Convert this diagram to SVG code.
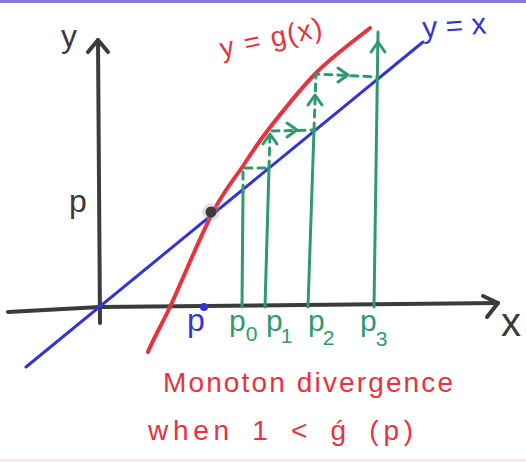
<svg xmlns="http://www.w3.org/2000/svg" xmlns:xlink="http://www.w3.org/1999/xlink" width="526" height="462" viewBox="0 0 526 462">
<style>
  .ax { fill: none; stroke: #3b3b3b; stroke-width: 4; stroke-linecap: round; stroke-linejoin: round; }
  .bl { fill: none; stroke: #3434d6; stroke-width: 3; stroke-linecap: round; }
  .rd { fill: none; stroke: #e8323f; stroke-width: 4; stroke-linecap: round; }
  .gr { fill: none; stroke: #2f9a6f; stroke-width: 3; stroke-linecap: round; stroke-linejoin: round; }
  .gd { fill: none; stroke: #2f9a6f; stroke-width: 3; stroke-linecap: round; stroke-dasharray: 7 6; }
  .t { font-family: "Liberation Sans", "DejaVu Sans", sans-serif; }
  .tk { fill: #3b3b3b; }
  .tr { fill: #e8323f; }
  .tb { fill: #3434d6; }
  .tg { fill: #2f9a6f; }
</style>
<defs>
  <path id="ah" d="M-10,-7 L0,0 L-10,7"/>
</defs>
<rect x="0" y="0" width="526" height="3" fill="#6f67c9" opacity="0.85"/>
<rect x="0" y="459" width="526" height="3" fill="#f3dbe8" opacity="0.7"/>

<g id="axes">
  <path class="ax" d="M100,323 L98,40"/>
  <path class="ax" d="M88,52 L98,40 L108,52"/>
  <path class="ax" d="M8,312 L100,307 L498,303"/>
  <path class="ax" d="M483,296 L498,303 L487,317"/>
</g>

<g id="connectors">
  <path id="line-y-eq-x" class="bl" d="M26,367 L423,42"/>
  <path id="curve-g" class="rd" d="M148,352 C151.3,342.8 164,320 170,307 C180.8,284 200.5,235.5 213,212 C225.5,188.5 233.8,179.7 243,166 C252.2,152.3 255.7,145.7 268,130 C280.3,114.3 300,89 317,72 C334,55 361.2,35.3 370,28"/>
  <g id="cobweb">
    <path class="gr" d="M242,307 L243,192"/>
    <path class="gd" d="M243,192 L243,168 L268,168"/>
    <path class="gr" d="M265,307 L269,168"/>
    <path class="gd" d="M269,168 L270,131 L315,130"/>
    <use href="#ah" class="gr" transform="translate(270,134) rotate(-90)"/>
    <use href="#ah" class="gr" transform="translate(297,130)"/>
    <path class="gr" d="M308,307 L314,130"/>
    <path class="gd" d="M314,130 L316,74 L377,77"/>
    <use href="#ah" class="gr" transform="translate(315,95) rotate(-90)"/>
    <use href="#ah" class="gr" transform="translate(348,75)"/>
    <path class="gr" d="M374,307 L378,32"/>
    <use href="#ah" class="gr" transform="translate(378,42) rotate(-90)"/>
  </g>
</g>

<g id="fixed-point">
  <circle cx="211" cy="212" r="9" fill="#9a9a9a" opacity="0.3"/>
  <circle cx="211" cy="212" r="5.5" fill="#3b3b3b"/>
  <circle cx="204" cy="307" r="4" fill="#3434d6"/>
</g>

<g id="labels">
  <text class="t tk" x="61" y="47" font-size="32">y</text>
  <text class="t tk" x="501" y="336" font-size="40">x</text>
  <text class="t tk" x="69" y="212" font-size="32">p</text>
  <text class="t tb" x="187" y="331" font-size="32">p</text>
  <text class="t tg" x="229" y="331" font-size="30">p<tspan font-size="21" dy="10">0</tspan></text>
  <text class="t tg" x="266" y="331" font-size="30">p<tspan font-size="21" dy="12" dx="-2">1</tspan></text>
  <text class="t tg" x="308" y="331" font-size="30">p<tspan font-size="21" dy="14" dx="-2">2</tspan></text>
  <text class="t tg" x="360" y="331" font-size="30">p<tspan font-size="21" dy="15" dx="-1">3</tspan></text>
  <text class="t tr" x="222" y="58" font-size="28" textLength="104" transform="rotate(-12 222 58)">y = g(x)</text>
  <text class="t tb" x="423" y="38" font-size="30" textLength="64" transform="rotate(-4 423 38)">y = x</text>
  <text class="t tr" x="163" y="392" font-size="28" textLength="290">Monoton divergence</text>
  <text class="t tr" x="148" y="440" font-size="28" textLength="265" word-spacing="6">when 1 &lt; ǵ (p)</text>
</g>
</svg>
